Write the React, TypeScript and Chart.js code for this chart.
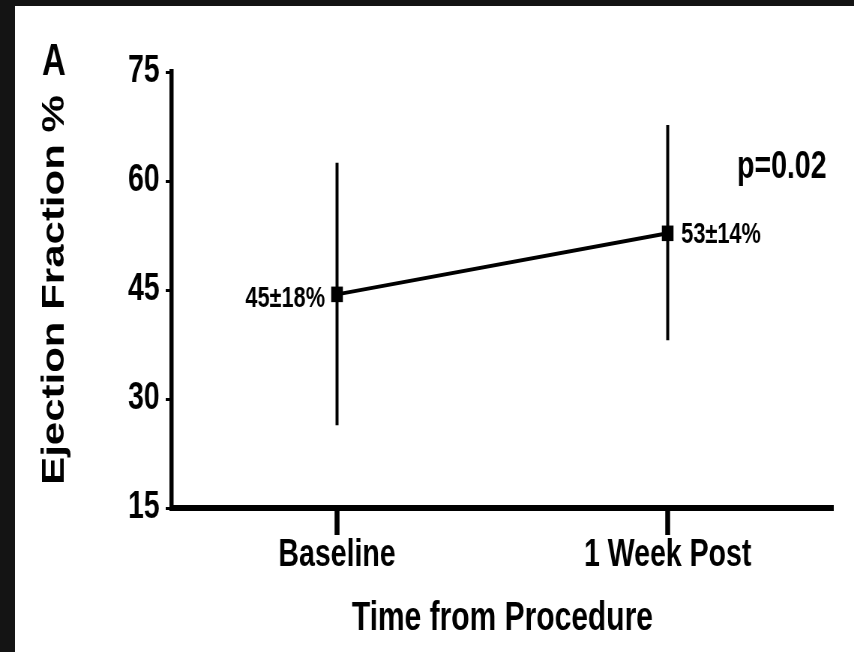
import React, { useEffect, useRef } from 'react';
import { Chart, registerables } from 'chart.js';

Chart.register(...registerables);

// ---- data ----
const categories = ['Baseline', '1 Week Post'];
const meanEF = [44.4, 52.8];
const errLow = [26.4, 38.1];
const errHigh = [62.5, 67.7];
const pointLabels = ['45±18%', '53±14%'];
const yMin = 15;
const yMax = 75;
const yStep = 15;
const pValueText = 'p=0.02';
const panelLetter = 'A';
const yTitle = 'Ejection Fraction %';
const xTitle = 'Time from Procedure';

// ---- layout ----
const W = 854;
const H = 652;
const IW = 1139; // internal canvas width, squashed horizontally to W
const SX = W / IW;
const FONT = "'Liberation Sans', Arial, Helvetica, sans-serif";

const annotate = {
  id: 'annotate',
  beforeDatasetsDraw(chart: any) {
    const { ctx, scales } = chart;
    const x = scales.x;
    const y = scales.y;
    ctx.save();
    ctx.strokeStyle = '#000';
    ctx.lineWidth = 4;
    ctx.lineCap = 'butt';
    categories.forEach((_c, i) => {
      const px = x.getPixelForValue(i);
      const top = y.getPixelForValue(errHigh[i]);
      const bot = y.getPixelForValue(errLow[i]);
      ctx.beginPath();
      ctx.moveTo(px, top);
      ctx.lineTo(px, bot);
      ctx.stroke();
    });
    ctx.restore();
  },
  afterDatasetsDraw(chart: any) {
    const { ctx, scales, chartArea } = chart;
    const x = scales.x;
    const y = scales.y;
    ctx.save();
    ctx.fillStyle = '#000';
    ctx.textBaseline = 'middle';
    // point labels
    ctx.font = `bold 29px ${FONT}`;
    pointLabels.forEach((lab, i) => {
      const px = x.getPixelForValue(i);
      const py = y.getPixelForValue(meanEF[i]);
      if (i === 0) {
        ctx.textAlign = 'right';
        ctx.fillText(lab, px - 16, py + 5);
      } else {
        ctx.textAlign = 'left';
        ctx.fillText(lab, px + 18, py + 2);
      }
    });
    // p value
    ctx.font = `bold 38px ${FONT}`;
    ctx.textAlign = 'left';
    ctx.fillText(pValueText, 983, 168);
    // panel letter
    ctx.font = `bold 44px ${FONT}`;
    ctx.textAlign = 'center';
    ctx.fillText(panelLetter, 72, chartArea.top - 9);
    ctx.restore();
  },
};

export default function App() {
  const ref = useRef<HTMLCanvasElement | null>(null);

  useEffect(() => {
    if (!ref.current) return;
    const chart = new Chart(ref.current, {
      type: 'line',
      data: {
        labels: categories,
        datasets: [
          {
            data: meanEF,
            borderColor: '#000',
            backgroundColor: '#000',
            borderWidth: 4,
            pointStyle: 'rect',
            pointRadius: 11,
            pointBackgroundColor: '#000',
            pointBorderWidth: 0,
            tension: 0,
            clip: false as any,
          },
        ],
      },
      options: {
        animation: false,
        responsive: false,
        maintainAspectRatio: false,
        devicePixelRatio: 1,
        layout: { padding: { top: 72, right: 28, bottom: 0, left: 0 } },
        plugins: {
          legend: { display: false },
          tooltip: { enabled: false },
        },
        scales: {
          x: {
            type: 'category',
            offset: true,
            grid: {
              display: true,
              drawOnChartArea: false,
              drawTicks: true,
              tickLength: 27,
              tickWidth: 6.5,
              tickColor: '#000',
              offset: false,
            },
            border: { display: true, color: '#000', width: 6 },
            ticks: {
              color: '#000',
              font: { family: FONT, size: 38, weight: 'bold', lineHeight: 1 },
              padding: 2,
              maxRotation: 0,
              autoSkip: false,
            },
            title: {
              display: true,
              text: xTitle,
              color: '#000',
              font: { family: FONT, size: 40, weight: 'bold' },
              padding: { top: 0, bottom: 9 },
            },
            afterFit: (s: any) => {
              s.height = 144;
            },
          },
          y: {
            type: 'linear',
            min: yMin,
            max: yMax,
            ticks: {
              stepSize: yStep,
              color: '#000',
              font: { family: FONT, size: 38, weight: 'bold' },
              padding: 8,
            },
            grid: {
              display: true,
              drawOnChartArea: false,
              drawTicks: true,
              tickLength: 8,
              tickWidth: 3,
              tickColor: '#000',
            },
            border: { display: true, color: '#000', width: 5.5 },
            title: {
              display: true,
              text: yTitle,
              color: '#000',
              font: { family: FONT, size: 42, weight: 'bold' },
              padding: { top: 48, bottom: 0 },
            },
            afterFit: (s: any) => {
              s.width = 229;
            },
          },
        },
      },
      plugins: [annotate],
    });
    return () => chart.destroy();
  }, []);

  return (
    <div
      style={{
        position: 'fixed',
        left: 0,
        top: 0,
        width: W,
        height: H,
        overflow: 'hidden',
        background: '#141414',
      }}
    >
      <div
        style={{
          position: 'absolute',
          left: 15,
          top: 6,
          right: 0,
          bottom: 0,
          background: '#ffffff',
        }}
      />
      <canvas
        ref={ref}
        width={IW}
        height={H}
        style={{
          position: 'absolute',
          left: 0,
          top: 0,
          width: IW,
          height: H,
          transformOrigin: '0 0',
          transform: `scaleX(${SX})`,
        }}
      />
    </div>
  );
}
